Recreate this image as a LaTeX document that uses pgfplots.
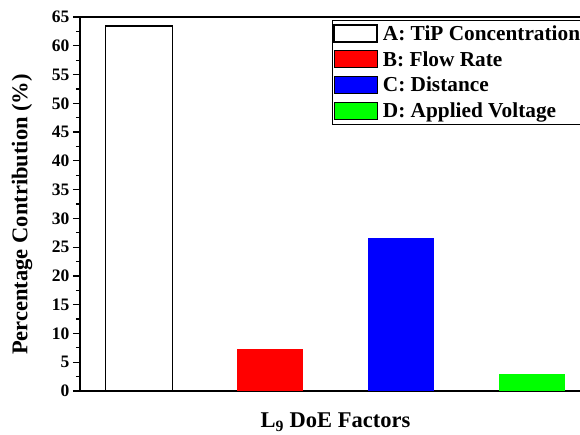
\documentclass[border=0pt]{standalone}
\usepackage{pgfplots}
\pgfplotsset{compat=1.18}
\usepackage{fontspec}
\setmainfont{Liberation Serif}
\begin{document}
\begin{tikzpicture}[x=1pt,y=1pt]
\begin{axis}[
  name=ax,
  at={(0,0)}, anchor=south west,
  width=511pt, height=374pt, scale only axis,
  xmin=0.55, xmax=4.45, ymin=0, ymax=65,
  xtick=\empty,
  ytick={0,5,...,65},
  minor y tick num=1,
  ytick pos=left,
  tick align=outside,
  major tick length=7pt, minor tick length=4pt,
  every tick/.style={line width=1.2pt, black},
  axis line style={line width=1.3pt},
  /pgf/number format/assume math mode=true,
  y tick label style={font=\fontsize{17.5}{17.5}\selectfont\bfseries},
  ylabel={Percentage Contribution (\%)},
  xlabel={L\textsubscript{9} DoE Factors},
  label style={font=\fontsize{22.5}{22.5}\selectfont\bfseries},
  ylabel style={at={(axis description cs:-0.1135,0.472)}, anchor=center},
  xlabel style={at={(axis description cs:0.5,0)}, anchor=base, yshift=-37pt},
  legend style={at={(0.493,0.992)}, anchor=north west, draw=black, line width=1pt,
    font=\fontsize{21.3}{24}\selectfont\bfseries, inner xsep=1pt, inner ysep=3pt,
    row sep=5.5pt, legend cell align=left},
  legend image code/.code={\draw[#1] (0pt,-8.5pt) rectangle (43pt,8.5pt); \path (46pt,0pt);},
]
\addplot[ybar, bar width=0.51, fill=white, draw=black, line width=1.5pt] coordinates {(1,63.4)};
\addlegendentry{A: TiP Concentration}
\addplot[ybar, bar width=0.51, fill=red, draw=none] coordinates {(2,7.3)};
\addlegendentry{B: Flow Rate}
\addplot[ybar, bar width=0.51, fill=blue, draw=none] coordinates {(3,26.6)};
\addlegendentry{C: Distance}
\addplot[ybar, bar width=0.51, fill=green, draw=none] coordinates {(4,2.9)};
\addlegendentry{D: Applied Voltage}
\end{axis}
\pgfresetboundingbox
\path[use as bounding box] (-80,-44) rectangle (500,391);
\end{tikzpicture}
\end{document}
